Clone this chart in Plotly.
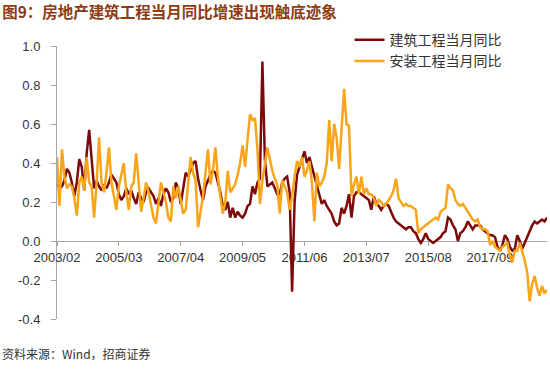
import plotly.graph_objects as go
import pandas as pd

# 建筑工程当月同比 (monthly, from 2003/02)
construction = [
    0.30, 0.27, 0.28, 0.31, 0.37, 0.35, 0.30, 0.23, 0.30, 0.42,
    0.38, 0.26, 0.45, 0.57, 0.42, 0.27, 0.31, 0.28, 0.26, 0.29,
    0.27, 0.30, 0.34, 0.32, 0.30, 0.24, 0.21, 0.23, 0.27, 0.24,
    0.26, 0.22, 0.19, 0.25, 0.22, 0.20, 0.25, 0.27, 0.25, 0.23,
    0.19, 0.22, 0.18, 0.24, 0.27, 0.25, 0.20, 0.22, 0.30, 0.27,
    0.19, 0.26, 0.35, 0.33, 0.37, 0.40, 0.41, 0.32, 0.26, 0.21,
    0.28, 0.31, 0.34, 0.36, 0.35, 0.30, 0.25, 0.18, 0.16, 0.20,
    0.12, 0.17, 0.12, 0.15, 0.13, 0.12, 0.14, 0.18, 0.19, 0.28,
    0.24, 0.30, 0.32, 0.92, 0.42, 0.28, 0.29, 0.30, 0.27, 0.24,
    0.24, 0.30, 0.32, 0.33, 0.25, -0.26, 0.20, 0.34, 0.38, 0.42,
    0.46, 0.40, 0.43, 0.38, 0.33, 0.28, 0.24, 0.19, 0.21, 0.18,
    0.16, 0.14, 0.10, 0.08, 0.09, 0.17, 0.14, 0.18, 0.24, 0.12,
    0.23, 0.25, 0.25, 0.24, 0.23, 0.22, 0.21, 0.16, 0.23, 0.19,
    0.18, 0.16, 0.18, 0.19, 0.18, 0.15, 0.12, 0.10, 0.09, 0.08,
    0.07, 0.06, 0.07, 0.07, 0.05, 0.04, 0.01, -0.01, 0.01, 0.04,
    0.01, 0.00, -0.01, 0.00, 0.01, 0.02, 0.04, 0.05, 0.12, 0.11,
    0.08, 0.06, 0.00, 0.04, 0.05, 0.07, 0.10, 0.08, 0.06, 0.08,
    0.08, 0.08, 0.06, 0.05, 0.04, 0.03, 0.03, 0.02, -0.03, -0.05,
    -0.02, 0.03, 0.01, -0.03, -0.05, -0.04, 0.03, 0.00, -0.04, -0.01,
    0.02, 0.05, 0.08, 0.10, 0.09, 0.10, 0.11, 0.10, 0.12,
]

# 安装工程当月同比 (monthly, from 2003/02)
installation = [
    0.43, 0.18, 0.47, 0.33, 0.27, 0.29, 0.28, 0.22, 0.13, 0.30,
    0.33, 0.26, 0.43, 0.30, 0.28, 0.12, 0.30, 0.53, 0.30, 0.25,
    0.35, 0.48, 0.30, 0.22, 0.16, 0.28, 0.35, 0.40, 0.25, 0.16,
    0.28, 0.30, 0.45, 0.30, 0.15, 0.22, 0.30, 0.25, 0.18, 0.12,
    0.09, 0.20, 0.30, 0.25, 0.20, 0.12, 0.10, 0.28, 0.22, 0.28,
    0.20, 0.14, 0.16, 0.30, 0.43, 0.35, 0.31, 0.07, 0.15, 0.23,
    0.35, 0.47, 0.29, 0.36, 0.48, 0.33, 0.23, 0.14, 0.20, 0.36,
    0.25, 0.27, 0.29, 0.34, 0.40, 0.49, 0.38, 0.52, 0.65, 0.62,
    0.63, 0.47, 0.19, 0.31, 0.40, 0.48, 0.42, 0.36, 0.32, 0.29,
    0.14, 0.31, 0.28, 0.25, 0.16, 0.23, 0.33, 0.41, 0.38, 0.43,
    0.33, 0.36, 0.41, 0.30, 0.10, 0.35, 0.28, 0.30, 0.33, 0.40,
    0.62, 0.41, 0.60, 0.53, 0.37, 0.58, 0.78, 0.60, 0.59, 0.23,
    0.29, 0.33, 0.24, 0.33, 0.24, 0.27, 0.24, 0.24, 0.22, 0.18,
    0.21, 0.20, 0.18, 0.19, 0.21, 0.23, 0.26, 0.32, 0.22, 0.20,
    0.18, 0.19, 0.18, 0.18, 0.17, 0.16, 0.04, 0.06, 0.07, 0.08,
    0.09, 0.10, 0.11, 0.12, 0.11, 0.15, 0.16, 0.17, 0.29, 0.27,
    0.26, 0.21, 0.19, 0.18, 0.19, 0.17, 0.15, 0.13, 0.11, 0.10,
    0.11, 0.07, 0.06, 0.06, 0.05, -0.02, 0.00, -0.03, -0.04, -0.05,
    -0.03, -0.02, -0.01, -0.08, -0.11, -0.05, -0.05, -0.01, -0.05, -0.10,
    -0.16, -0.31, -0.22, -0.18, -0.24, -0.28, -0.23, -0.27, -0.25,
]

months = [p.strftime("%Y/%m") for p in pd.period_range("2003-02", periods=len(construction), freq="M")]
x_tick_labels = ["2003/02", "2005/03", "2007/04", "2009/05", "2011/06", "2013/07", "2015/08", "2017/09"]
y_tick_values = [-0.4, -0.2, 0.0, 0.2, 0.4, 0.6, 0.8, 1.0]
y_tick_labels = ["-0.4", "-0.2", "0.0", "0.2", "0.4", "0.6", "0.8", "1.0"]

DARK_RED = "#7D0A0A"
ORANGE = "#F9A51A"
AXIS_GRAY = "#A6A6A6"
TEXT = "#333333"
FONT = "Liberation Sans, Arial, sans-serif"
CJK = "Noto Sans CJK SC, sans-serif"

# plot area in pixels: left 57, right 547, top 20 (legend room), bottom 319
M_L, M_R, M_T, M_B = 57, 3, 20, 51
PLOT_H = 370 - M_T - M_B
PLOT_W = 550 - M_L - M_R
Y_TOP_FRAC = (370 - M_B - 46) / PLOT_H  # y=1.0 sits at pixel row 46

fig = go.Figure()
fig.add_trace(go.Scatter(x=months, y=construction, mode="lines", name="建筑工程当月同比",
                         line=dict(color=DARK_RED, width=2.5)))
fig.add_trace(go.Scatter(x=months, y=installation, mode="lines", name="安装工程当月同比",
                         line=dict(color=ORANGE, width=2.5)))

fig.update_layout(
    width=550, height=370,
    margin=dict(l=M_L, r=M_R, t=M_T, b=M_B, autoexpand=False),
    paper_bgcolor="white", plot_bgcolor="white",
    font=dict(family=FONT, size=13, color=TEXT),
    title=dict(text="<b>图9：房地产建筑工程当月同比增速出现触底迹象</b>",
               x=0.004, xanchor="left", xref="container",
               y=1 - 13 / 370, yanchor="middle", yref="container",
               font=dict(family=CJK, size=15.5, color="#8E3B12")),
    legend=dict(x=0.597, xanchor="left", y=0.986, yanchor="top",
                font=dict(family=CJK, size=14, color=TEXT),
                bgcolor="rgba(0,0,0,0)", tracegroupgap=0),
    showlegend=True,
    xaxis=dict(type="category", range=[0, len(months) - 1],
               tickmode="array", tickvals=x_tick_labels, ticktext=x_tick_labels,
               anchor="free", position=Y_TOP_FRAC * 0.4 / 1.4,
               showline=True, linecolor=AXIS_GRAY, linewidth=1,
               ticks="outside", ticklen=4, tickcolor=AXIS_GRAY,
               showgrid=False, zeroline=False, layer="below traces",
               automargin=False,
               tickangle=0, tickfont=dict(size=13, color=TEXT)),
    yaxis=dict(range=[-0.4, 1.0], domain=[0, Y_TOP_FRAC], tickmode="array",
               tickvals=y_tick_values, ticktext=y_tick_labels,
               showline=True, linecolor=AXIS_GRAY, linewidth=1,
               ticks="outside", ticklen=5, tickcolor=AXIS_GRAY,
               ticklabelstandoff=8, automargin=False,
               showgrid=False, zeroline=False, layer="below traces",
               tickfont=dict(size=13, color=TEXT)),
)

fig.add_annotation(text="资料来源：Wind，招商证券", xref="paper", yref="paper",
                   x=-M_L / PLOT_W, xanchor="left", y=-(353 - (370 - M_B)) / PLOT_H, yanchor="middle",
                   showarrow=False, font=dict(family=CJK, size=12, color=TEXT))

fig.write_html("out.html",
               config={"displayModeBar": False},
               post_script="document.body.style.margin='0';document.body.style.overflow='hidden';")
